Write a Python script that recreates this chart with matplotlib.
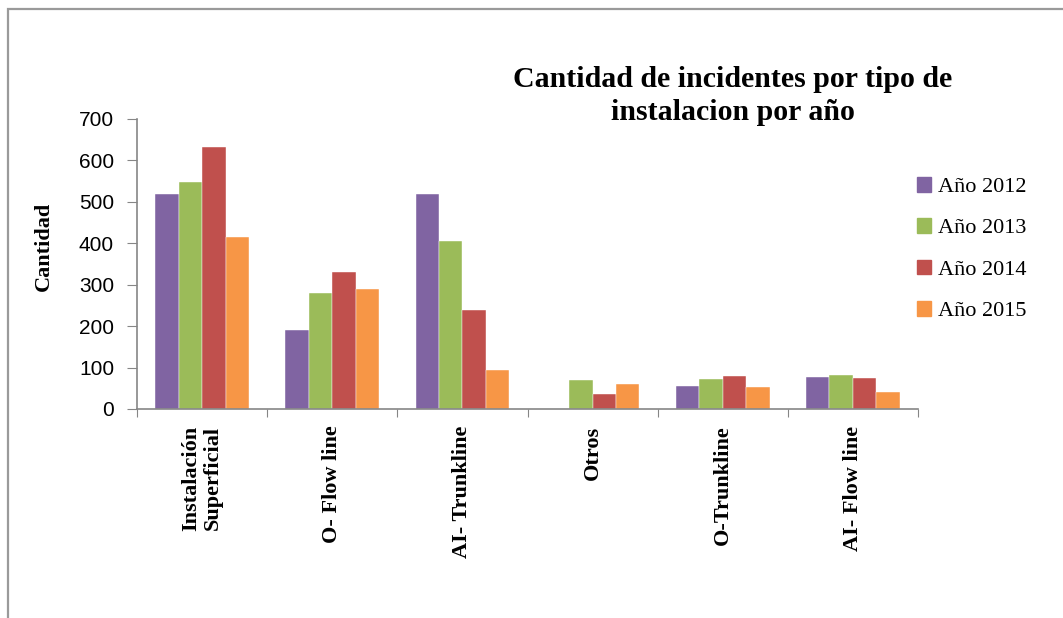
import numpy as np
import matplotlib
matplotlib.use("Agg")
import matplotlib.pyplot as plt
from matplotlib.patches import Patch, Rectangle

# datos
categorias = ["Instalación\nSuperficial", "O- Flow line", "AI- Trunkline",
              "Otros", "O-Trunkline", "AI- Flow line"]
anios = ["Año 2012", "Año 2013", "Año 2014", "Año 2015"]
valores_2012 = [519, 191, 519, 0, 55, 78]
valores_2013 = [547, 281, 405, 69, 73, 83]
valores_2014 = [633, 331, 240, 37, 79, 74]
valores_2015 = [414, 290, 94, 60, 52, 42]
colores = ["#8064A2", "#9BBB59", "#C0504D", "#F79646"]

serif = ["Liberation Serif", "DejaVu Serif"]
sans = ["Liberation Sans", "DejaVu Sans"]

W, H = 1063, 618
fig = plt.figure(figsize=(W / 100, H / 100), dpi=100)
fig.patch.set_facecolor("white")

# marco exterior (recortado a la derecha y abajo)
fig.patches.append(Rectangle((8 / W, -0.1), 1.2, (H - 9) / H + 0.1,
                             transform=fig.transFigure, fill=False,
                             edgecolor="#9a9a9a", lw=1.6))

ax = fig.add_axes([137 / W, (H - 409) / H, 781 / W, 290 / H])

series = [valores_2012, valores_2013, valores_2014, valores_2015]
x = np.arange(len(categorias)) + 0.5
ancho = 0.18
for i, (vals, col, lab) in enumerate(zip(series, colores, anios)):
    ax.bar(x + (i - 1.5) * ancho, vals, ancho, color=col, label=lab,
           edgecolor="white", linewidth=0.3)

ax.set_xlim(0, len(categorias))
ax.set_ylim(0, 700)
ax.set_yticks(range(0, 701, 100))
ax.set_xticks(range(0, len(categorias) + 1))
ax.set_xticklabels([])
ax.set_xticks(x, minor=True)
ax.set_xticklabels(categorias, minor=True, rotation=90, fontfamily=serif,
                   fontweight="bold", fontsize=16, linespacing=1.1)
ax.tick_params(axis="x", which="minor", length=0, pad=12)
ax.tick_params(axis="x", which="major", length=6, color="#868686", direction="out")
ax.tick_params(axis="y", length=7.5, color="#868686", direction="out", pad=9)
for t in ax.get_yticklabels():
    t.set_fontfamily(sans)
    t.set_fontsize(15)

for s in ["top", "right"]:
    ax.spines[s].set_visible(False)
for s in ["left", "bottom"]:
    ax.spines[s].set_color("#868686")
    ax.spines[s].set_linewidth(1.2)

ax.set_ylabel("Cantidad", fontfamily=serif, fontweight="bold", fontsize=16)
ax.yaxis.set_label_coords(-0.106, 0.56)

fig.text(733 / W, 1 - 96 / H, "Cantidad de incidentes por tipo de\ninstalacion por año",
         ha="center", va="center", fontfamily=serif, fontweight="bold",
         fontsize=21.5, linespacing=1.3)

handles = [Patch(color=c) for c in colores]
ax.legend(handles, anios, loc="center left", bbox_to_anchor=(897 / W, 1 - 249 / H),
          bbox_transform=fig.transFigure, frameon=False,
          prop={"family": serif, "size": 16}, handlelength=0.65, handleheight=0.65,
          handletextpad=0.3, labelspacing=0.95)

fig.savefig("out.png", dpi=100)
